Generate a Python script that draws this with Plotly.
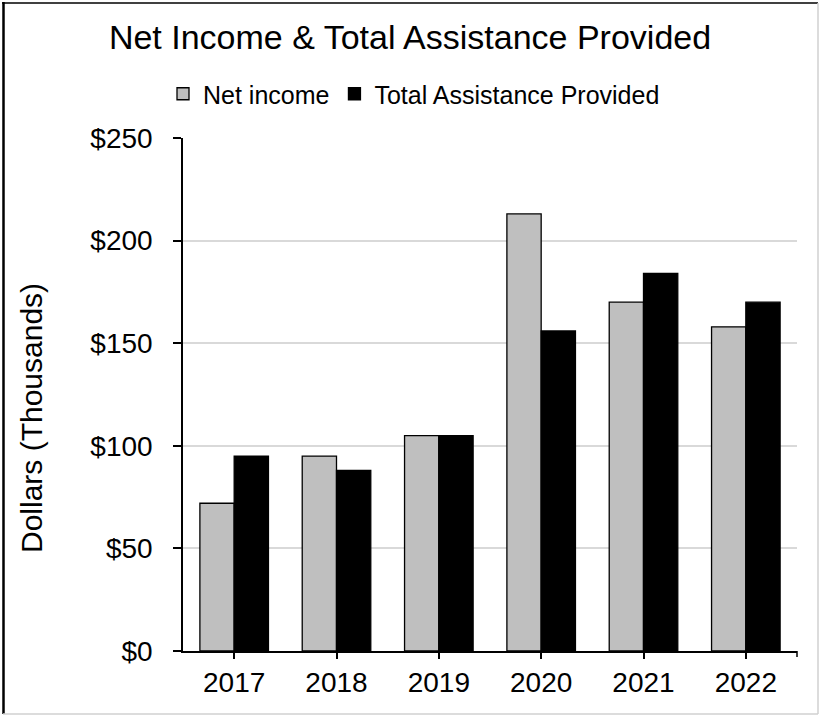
import plotly.graph_objects as go

# Chart data (thousands of dollars)
years = ["2017", "2018", "2019", "2020", "2021", "2022"]
net_income = [72, 95, 105, 213, 170, 158]
total_assistance = [95, 88, 105, 156, 184, 170]
series_names = ["Net income", "Total Assistance Provided"]
y_ticks = [0, 50, 100, 150, 200, 250]
y_tick_labels = ["$0", "$50", "$100", "$150", "$200", "$250"]

W, H = 820, 716
ML, MR, MT, MB = 183, 23, 138, 65
FONT = "Liberation Sans, Arial, sans-serif"

fig = go.Figure()
fig.add_trace(go.Bar(
    x=years, y=net_income, name=series_names[0],
    marker=dict(color="#BFBFBF", line=dict(color="black", width=1.3)),
))
fig.add_trace(go.Bar(
    x=years, y=total_assistance, name=series_names[1],
    marker=dict(color="black", line=dict(color="black", width=1.3)),
))

# pixel -> paper coordinate helpers for decorations outside the plot area
pw, ph = W - ML - MR, H - MT - MB
def px(x):
    return (x - ML) / pw
def py(y):
    return 1 - (y - MT) / ph

shapes = [
    # chart frame
    dict(type="line", xref="paper", yref="paper", x0=px(3.5), x1=px(3.5), y0=py(2), y1=py(714),
         line=dict(color="black", width=2.5)),
    dict(type="line", xref="paper", yref="paper", x0=px(2), x1=px(818), y0=py(3), y1=py(3),
         line=dict(color="black", width=1.5)),
    dict(type="line", xref="paper", yref="paper", x0=px(818), x1=px(818), y0=py(3), y1=py(714),
         line=dict(color="#D0D0D0", width=1.5)),
    dict(type="line", xref="paper", yref="paper", x0=px(3), x1=px(818), y0=py(714), y1=py(714),
         line=dict(color="#D0D0D0", width=1.5)),
    # closing tick at the end of the category axis
    dict(type="line", xref="paper", yref="paper", x0=1, x1=1, y0=0, y1=py(H - MB + 6),
         line=dict(color="black", width=1.5)),
]

# vertical axis title
annotations = [
    dict(text="Dollars (Thousands)", textangle=-90, xref="paper", yref="paper",
         x=px(31), y=py(418), xanchor="center", yanchor="middle", showarrow=False,
         font=dict(size=30, family=FONT, color="black")),
]

fig.update_layout(
    width=W, height=H,
    margin=dict(l=ML, r=MR, t=MT, b=MB, pad=0),
    paper_bgcolor="white", plot_bgcolor="white",
    font=dict(family=FONT, color="black"),
    barmode="group", bargap=0.33, bargroupgap=0,
    title=dict(text="Net Income & Total Assistance Provided", x=0.5, xanchor="center",
               xref="container", y=1 - 37 / H, yref="container", yanchor="middle",
               font=dict(size=34, family=FONT, color="black")),
    legend=dict(orientation="h", x=px(414), xanchor="center", xref="paper",
                y=py(94), yanchor="middle", font=dict(size=25, family=FONT, color="black"),
                itemwidth=30, bgcolor="rgba(0,0,0,0)", tracegroupgap=0),
    xaxis=dict(showline=True, linecolor="black", linewidth=1.5, ticks="outside",
               ticklen=6, tickwidth=1.5, tickcolor="black",
               tickfont=dict(size=28, family=FONT, color="black"), showgrid=False),
    yaxis=dict(range=[0, 250], tickmode="array", tickvals=y_ticks, ticktext=y_tick_labels,
               showline=True, linecolor="black", linewidth=1.5, ticks="outside", ticklen=8,
               tickwidth=1.5, tickcolor="black",
               tickfont=dict(size=28, family=FONT, color="black"),
               gridcolor="#D9D9D9", gridwidth=1.5, zeroline=False,
               ticklabelstandoff=15),
    shapes=shapes,
    annotations=annotations,
)

fig.write_html("out.html")
